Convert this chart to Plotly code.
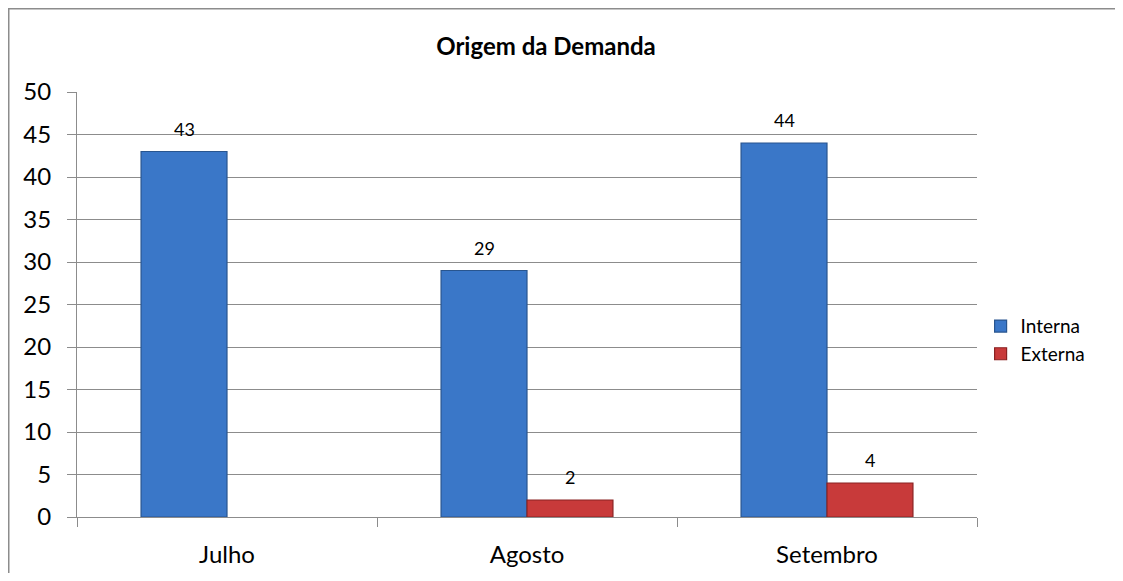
import plotly.graph_objects as go

months = ["Julho", "Agosto", "Setembro"]
interna = [43, 29, 44]
externa = [None, 2, 4]
y_ticks = [0, 5, 10, 15, 20, 25, 30, 35, 40, 45, 50]

FONT = "Lato"
GRID = "#8c8c8c"

# figure sized to fit the page without scrollbars (page has an 8px body margin)
W, H = 1107, 565
L, T, PW, PH = 69, 84, 900, 425

fig = go.Figure()
fig.add_trace(go.Bar(
    x=months, y=interna, name="Interna",
    marker=dict(color="#3a77c8", line=dict(color="#28558f", width=1.2)),
))
fig.add_trace(go.Bar(
    x=months, y=externa, name="Externa",
    marker=dict(color="#c83a3a", line=dict(color="#8a2222", width=1.2)),
))

annotations = []
for series, shift in ((interna, -43), (externa, 43)):
    for m, v in zip(months, series):
        if v is None:
            continue
        annotations.append(dict(
            x=m, y=v, xref="x", yref="y", text=str(v), showarrow=False,
            xshift=shift, yshift=23, font=dict(family=FONT, size=18, color="#000000"),
        ))

px_x = lambda p: (p - L) / PW
px_y = lambda p: 1 - (p - T) / PH

fig.update_layout(
    width=W, height=H,
    margin=dict(l=L, r=W - L - PW, t=T, b=H - T - PH, autoexpand=False),
    paper_bgcolor="white", plot_bgcolor="white",
    barmode="group", bargap=0.427, bargroupgap=0,
    font=dict(family=FONT, color="#000000"),
    title=dict(text="<b>Origem da Demanda</b>", x=(L + 469) / W, xanchor="center",
               y=1 - 39 / H, yanchor="middle",
               font=dict(family=FONT, size=24, color="#000000")),
    xaxis=dict(
        range=[-0.5, 2.5], showgrid=False, showline=True, linecolor=GRID, linewidth=1,
        ticks="outside", tickson="boundaries", ticklen=9, tickcolor=GRID, automargin=False,
        tickfont=dict(family=FONT, size=24, color="#000000"), ticklabelstandoff=16,
    ),
    yaxis=dict(
        range=[0, 50], tickvals=y_ticks, showgrid=True, gridcolor=GRID, gridwidth=1,
        showline=True, linecolor=GRID, linewidth=1, zeroline=False, automargin=False,
        ticks="outside", ticklen=9, tickcolor=GRID,
        tickfont=dict(family=FONT, size=24, color="#000000"), ticklabelstandoff=11,
    ),
    legend=dict(x=1.004, y=0.416, xanchor="left", yanchor="middle",
                font=dict(family=FONT, size=19, color="#000000"),
                itemwidth=30, tracegroupgap=0),
    showlegend=True,
    annotations=annotations,
    shapes=[
        dict(type="line", xref="paper", yref="paper",
             x0=px_x(0.75), x1=px_x(0.75), y0=px_y(H + 20), y1=px_y(0.75),
             line=dict(color=GRID, width=1.5), layer="below"),
        dict(type="line", xref="paper", yref="paper",
             x0=px_x(0), x1=px_x(W + 20), y0=px_y(0.75), y1=px_y(0.75),
             line=dict(color=GRID, width=1.5), layer="below"),
    ],
)

fig.write_html("out.html")
